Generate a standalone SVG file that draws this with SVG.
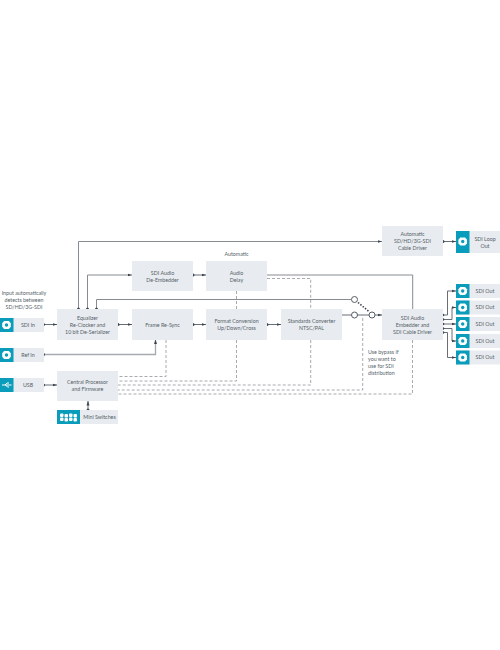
<svg xmlns="http://www.w3.org/2000/svg" width="500" height="650" viewBox="0 0 500 650">
<style>
.box{fill:#e8ebef}
.teal{fill:#0a9cbb}
text{font-family:Lato,"Open Sans","Liberation Sans",sans-serif;font-size:5.3px;fill:#555f69;text-anchor:middle}
.l{text-anchor:start}
.s{fill:none;stroke:#868c93;stroke-width:1}
.r{fill:none;stroke:#a4aab0;stroke-width:1.3}
.d{fill:none;stroke:#8f959b;stroke-width:.8;stroke-dasharray:3 2}
.a{fill:none;stroke:#555d66;stroke-width:.9}
.o{fill:#fff;stroke:#555d66;stroke-width:1}
.dot{fill:#3e4650}
.i{fill:#fff}
.c{fill:#0a9cbb}
</style>
<defs>
<marker id="ah" markerWidth="5" markerHeight="4" refX="4.500" refY="2" orient="auto" markerUnits="userSpaceOnUse"><path d="M0 .5L4.500 2L0 3.500z" fill="#3e4650"/></marker>
<g id="bnc"><path class="i" d="M-2.400-4H2.400L4.300-1.800V1.800L2.400 4H-2.400L-4.300 1.800V-1.800z"/><circle class="c" r="1.700"/></g>
</defs>
<rect width="500" height="650" fill="#fff"/>
<g id="connectors">
<path class="s" d="M78.500 309V241.500H382" marker-end="url(#ah)"/>
<path class="s" d="M87.500 309V275H132" marker-end="url(#ah)"/>
<path class="s" d="M96.500 309V299.500H351"/>
<path class="r" d="M43 354.500H155.500V339.500" marker-end="url(#ah)"/>
<path class="s" d="M267 275H412.700V309"/>
<path class="a" d="M43 324.500H57" marker-end="url(#ah)"/>
<path class="a" d="M118 324.500H132" marker-end="url(#ah)"/>
<path class="a" d="M193 324.500H206" marker-end="url(#ah)"/>
<path class="a" d="M267 324.500H281" marker-end="url(#ah)"/>
<path class="a" d="M193 275H206" marker-end="url(#ah)"/>
<path class="a" d="M43 385H57" marker-end="url(#ah)"/>
<path class="a" d="M88 410V401" marker-end="url(#ah)"/>
<path class="a" d="M443 241.500H456" marker-end="url(#ah)"/>
<path class="a" d="M342 315H351M357 315H369M375 315H382" marker-end="url(#ah)"/>
<path d="M358 302.500L369 311.500" fill="none" stroke="#3e4650" stroke-width="1.600" stroke-dasharray="1.500 1.500"/>
<path class="a" d="M443 315H447.500V291H456" marker-end="url(#ah)"/>
<path class="a" d="M443 319.500H452V307.500H456" marker-end="url(#ah)"/>
<path class="a" d="M443 324H456" marker-end="url(#ah)"/>
<path class="a" d="M443 328.500H452V341H456" marker-end="url(#ah)"/>
<path class="a" d="M443 332.500H447.500V357.500H456" marker-end="url(#ah)"/>
<path class="d" d="M267 278.500H310.700V309M310.700 340V385H118"/>
<path class="d" d="M236.500 291V309M236.500 340V381H118"/>
<path class="d" d="M166 340V376.500H118"/>
<path class="d" d="M362.700 318V390H118"/>
<path class="d" d="M412.500 340V394H118"/>
<g class="dot">
<circle cx="78.500" cy="309" r="1.500"/><circle cx="87.500" cy="309" r="1.500"/><circle cx="96.500" cy="309" r="1.500"/>
<circle cx="43.500" cy="324.500" r="1.500"/><circle cx="118" cy="324.500" r="1.500"/><circle cx="193" cy="324.500" r="1.500"/><circle cx="267" cy="324.500" r="1.500"/>
<circle cx="193" cy="275" r="1.500"/><circle cx="43.500" cy="354.500" r="1.500"/><circle cx="43.500" cy="385" r="1.500"/><circle cx="88" cy="410" r="1.500"/>
<circle cx="443" cy="241.500" r="1.500"/>
<circle cx="443" cy="315" r="1.300"/><circle cx="443" cy="319.500" r="1.300"/><circle cx="443" cy="324" r="1.300"/><circle cx="443" cy="328.500" r="1.300"/><circle cx="443" cy="332.500" r="1.300"/>
</g>
<circle class="o" cx="354.500" cy="299.500" r="3"/>
<circle class="o" cx="354.500" cy="315" r="3"/>
<circle class="o" cx="372" cy="315" r="3"/>
</g>
<g id="note-input"><text x="24" y="295">Input automatically</text><text x="24" y="302">detects between</text><text x="24" y="309">SD/HD/3G-SDI</text></g>
<g id="sdi-in"><rect class="box" x="0" y="318" width="44" height="14"/><rect class="teal" x="0" y="318" width="13.500" height="14"/><use href="#bnc" x="6.500" y="325"/><text x="28" y="326.800">SDI In</text></g>
<g id="ref-in"><rect class="box" x="0" y="348" width="44" height="14"/><rect class="teal" x="0" y="348" width="13.500" height="14"/><use href="#bnc" x="6.500" y="355"/><text x="28" y="356.800">Ref In</text></g>
<g id="usb"><rect class="box" x="0" y="378" width="44" height="14"/><rect class="teal" x="0" y="378" width="13.500" height="14"/><path d="M2 385H11.500M5 385L7 383H9M5.500 385L7.500 387H9" fill="none" stroke="#fff" stroke-width="1"/><text x="28" y="387">USB</text></g>
<g id="equalizer"><rect class="box" x="57" y="309" width="61" height="31"/><text x="87.500" y="319.500">Equalizer</text><text x="87.500" y="326.500">Re-Clocker and</text><text x="87.500" y="333.500">10 bit De-Serializer</text></g>
<g id="de-embedder"><rect class="box" x="132" y="261" width="61" height="30"/><text x="162.500" y="274.500">SDI Audio</text><text x="162.500" y="281.500">De-Embedder</text></g>
<g id="audio-delay"><text x="236.500" y="255.500">Automatic</text><rect class="box" x="206" y="261" width="61" height="30"/><text x="236.500" y="274.500">Audio</text><text x="236.500" y="281.500">Delay</text></g>
<g id="frame-resync"><rect class="box" x="132" y="309" width="61" height="31"/><text x="162.500" y="326.500">Frame Re-Sync</text></g>
<g id="format-conversion"><rect class="box" x="206" y="309" width="61" height="31"/><text x="236.500" y="322.800">Format Conversion</text><text x="236.500" y="329.800">Up/Down/Cross</text></g>
<g id="standards-converter"><rect class="box" x="281" y="309" width="61" height="31"/><text x="311.500" y="322.800">Standards Converter</text><text x="311.500" y="329.800">NTSC/PAL</text></g>
<g id="sdi-embedder"><rect class="box" x="382" y="309" width="61" height="31"/><text x="412.500" y="319.500">SDI Audio</text><text x="412.500" y="326.500">Embedder and</text><text x="412.500" y="333.500">SDI Cable Driver</text></g>
<g id="cable-driver"><rect class="box" x="382" y="226" width="61" height="30"/><text x="412.500" y="236">Automatic</text><text x="412.500" y="243">SD/HD/3G-SDI</text><text x="412.500" y="250">Cable Driver</text></g>
<g id="sdi-loop-out"><rect class="box" x="456" y="231" width="44" height="22"/><rect class="teal" x="456" y="231" width="13.500" height="22"/><use href="#bnc" x="462.700" y="241.500"/><text x="485" y="240.500">SDI Loop</text><text x="485" y="247.500">Out</text></g>
<g id="sdi-out-1"><rect class="box" x="456" y="284" width="44" height="14"/><rect class="teal" x="456" y="284" width="13.500" height="14"/><use href="#bnc" x="462.700" y="291"/><text x="485" y="292.800">SDI Out</text></g>
<g id="sdi-out-2"><rect class="box" x="456" y="300.500" width="44" height="14"/><rect class="teal" x="456" y="300.500" width="13.500" height="14"/><use href="#bnc" x="462.700" y="307.500"/><text x="485" y="309.300">SDI Out</text></g>
<g id="sdi-out-3"><rect class="box" x="456" y="317" width="44" height="14"/><rect class="teal" x="456" y="317" width="13.500" height="14"/><use href="#bnc" x="462.700" y="324"/><text x="485" y="325.800">SDI Out</text></g>
<g id="sdi-out-4"><rect class="box" x="456" y="334" width="44" height="14"/><rect class="teal" x="456" y="334" width="13.500" height="14"/><use href="#bnc" x="462.700" y="341"/><text x="485" y="342.800">SDI Out</text></g>
<g id="sdi-out-5"><rect class="box" x="456" y="350.500" width="44" height="14"/><rect class="teal" x="456" y="350.500" width="13.500" height="14"/><use href="#bnc" x="462.700" y="357.500"/><text x="485" y="359.300">SDI Out</text></g>
<g id="bypass-note"><text class="l" x="368" y="353.500">Use bypass if</text><text class="l" x="368" y="360.500">you want to</text><text class="l" x="368" y="367.500">use for SDI</text><text class="l" x="368" y="374.500">distribution</text></g>
<g id="central-processor"><rect class="box" x="57" y="371" width="61" height="30"/><text x="87.500" y="384">Central Processor</text><text x="87.500" y="391">and Firmware</text></g>
<g id="mini-switches"><rect class="box" x="57" y="410" width="61" height="14"/><rect class="teal" x="57" y="410" width="23" height="14"/>
<g class="i"><rect x="60" y="413.500" width="3.500" height="3.500" rx="1"/><rect x="64.500" y="414" width="3.500" height="3.500" rx="1"/><rect x="69" y="413.500" width="3.500" height="3.500" rx="1"/><rect x="73.500" y="414" width="3.500" height="3.500" rx="1"/><rect x="60" y="417.500" width="3.500" height="3.500" rx="1"/><rect x="64.500" y="418" width="3.500" height="3.500" rx="1"/><rect x="69" y="417.500" width="3.500" height="3.500" rx="1"/><rect x="73.500" y="418" width="3.500" height="3.500" rx="1"/></g>
<text x="99.500" y="419.200">Mini Switches</text></g>
</svg>
